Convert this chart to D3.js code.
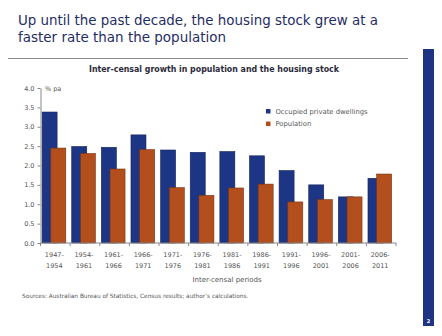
<!DOCTYPE html>
<html>
<head>
<meta charset="utf-8">
<script src="https://cdn.jsdelivr.net/npm/d3@7"></script>
<style>
  body { margin: 0; background: #fff; }
  svg { display: block; font-family: "DejaVu Sans", sans-serif; }
</style>
</head>
<body>
<svg id="chart" width="442" height="336"></svg>
<script>
const periods = [
  ['1947-', '1954'], ['1954-', '1961'], ['1961-', '1966'], ['1966-', '1971'],
  ['1971-', '1976'], ['1976-', '1981'], ['1981-', '1986'], ['1986-', '1991'],
  ['1991-', '1996'], ['1996-', '2001'], ['2001-', '2006'], ['2006-', '2011']
];
const dwellings = [3.38, 2.49, 2.47, 2.79, 2.40, 2.34, 2.36, 2.25, 1.87, 1.50, 1.19, 1.67];
const population = [2.45, 2.31, 1.91, 2.41, 1.43, 1.23, 1.42, 1.52, 1.06, 1.12, 1.19, 1.78];
const yTicks = [0, 0.5, 1, 1.5, 2, 2.5, 3, 3.5, 4];
const seriesNames = ['Occupied private dwellings', 'Population'];
const titleLines = ['Up until the past decade, the housing stock grew at a', 'faster rate than the population'];

const svg = d3.select('#chart');
const margin = { top: 88, right: 46, bottom: 93, left: 40.5 };
const width = 442, height = 336;
const navy = '#1d3585', rust = '#b24f1d';

// Slide title (one text, two lines)
const title = svg.append('text').attr('fill', '#1f2d66').attr('font-size', 14.5)
  .attr('font-family', 'DejaVu Sans');
title.selectAll('tspan').data(titleLines).join('tspan')
  .attr('x', 18).attr('y', (d, i) => i === 0 ? 24.5 : 41.5)
  .attr('textLength', (d, i) => i === 0 ? 360 : 208)
  .attr('lengthAdjust', 'spacingAndGlyphs')
  .text(d => d);
svg.append('line').attr('x1', 8).attr('x2', 408).attr('y1', 58.5).attr('y2', 58.5)
  .attr('stroke', '#8a8a8a').attr('stroke-width', 1);

// Side bar with page number
svg.append('rect').attr('x', 423).attr('y', 49).attr('width', 11).attr('height', 277)
  .attr('fill', '#1f3383');
svg.append('text').attr('x', 428.5).attr('y', 323).attr('text-anchor', 'middle')
  .attr('font-size', 5).attr('font-weight', 'bold').attr('fill', '#fff').text('2');

// Chart title
svg.append('text').attr('x', 89).attr('y', 72)
  .attr('textLength', 250).attr('lengthAdjust', 'spacingAndGlyphs')
  .attr('font-size', 8.8).attr('font-weight', 'bold').attr('fill', '#2b2b3a')
  .text('Inter-censal growth in population and the housing stock');

// Scales
const x = d3.scaleBand().domain(d3.range(periods.length))
  .range([margin.left, width - margin.right]);
const y = d3.scaleLinear().domain([0, 4]).range([height - margin.bottom, margin.top]);
const barW = 15, shift = 8.7;

// Bars
const g = svg.append('g');
g.selectAll('.dw').data(dwellings).join('rect')
  .attr('x', (d, i) => x(i) + 1.6)
  .attr('y', d => y(d))
  .attr('width', barW)
  .attr('height', d => y(0) - y(d))
  .attr('fill', navy).attr('stroke', '#14235a').attr('stroke-width', 0.6);
g.selectAll('.pop').data(population).join('rect')
  .attr('x', (d, i) => x(i) + 1.6 + shift)
  .attr('y', d => y(d))
  .attr('width', barW)
  .attr('height', d => y(0) - y(d))
  .attr('fill', rust).attr('stroke', '#7c3411').attr('stroke-width', 0.6);

// Y axis
const yAxis = svg.append('g').attr('transform', `translate(${margin.left},0)`)
  .call(d3.axisLeft(y).tickValues(yTicks).tickFormat(d3.format('.1f')).tickSize(3).tickSizeOuter(0));
yAxis.select('.domain').attr('stroke', '#888');
yAxis.selectAll('.tick line').attr('stroke', '#888');
yAxis.selectAll('text').attr('font-size', 6.5).attr('fill', '#555').attr('font-family', 'DejaVu Sans');
svg.append('text').attr('x', 45).attr('y', 91).attr('font-size', 6.5).attr('fill', '#555')
  .text('% pa');

// X axis: ticks at category boundaries
const bounds = d3.range(periods.length + 1).map(i => margin.left + i * x.step());
const xAxis = svg.append('g').attr('transform', `translate(0,${y(0)})`);
xAxis.append('line').attr('x1', margin.left).attr('x2', width - margin.right)
  .attr('stroke', '#888');
xAxis.selectAll('.bt').data(bounds).join('line')
  .attr('x1', d => d).attr('x2', d => d).attr('y1', 0).attr('y2', 3)
  .attr('stroke', '#888');
const labels = svg.append('g').attr('font-size', 6.5).attr('fill', '#555')
  .attr('text-anchor', 'middle');
labels.selectAll('.l1').data(periods).join('text')
  .attr('x', (d, i) => x(i) + x.bandwidth() / 2 - 1)
  .attr('y', 257).text(d => d[0]);
labels.selectAll('.l2').data(periods).join('text')
  .attr('x', (d, i) => x(i) + x.bandwidth() / 2 - 1)
  .attr('y', 268).text(d => d[1]);
svg.append('text').attr('x', 227).attr('y', 282).attr('text-anchor', 'middle')
  .attr('font-size', 7).attr('fill', '#555').text('Inter-censal periods');

// Legend
const legend = svg.append('g').attr('font-size', 6.8).attr('fill', '#555');
const lg = legend.selectAll('g').data(seriesNames).join('g')
  .attr('transform', (d, i) => `translate(266,${109 + i * 12.5})`);
lg.append('rect').attr('width', 4.5).attr('height', 4.5)
  .attr('fill', (d, i) => i === 0 ? navy : rust);
lg.append('text').attr('x', 9.5).attr('y', 4.5).text(d => d);

// Source note
svg.append('text').attr('x', 22).attr('y', 298).attr('font-size', 5.8).attr('fill', '#555')
  .text('Sources: Australian Bureau of Statistics, Census results; author\u2019s calculations.');
</script>
</body>
</html>
